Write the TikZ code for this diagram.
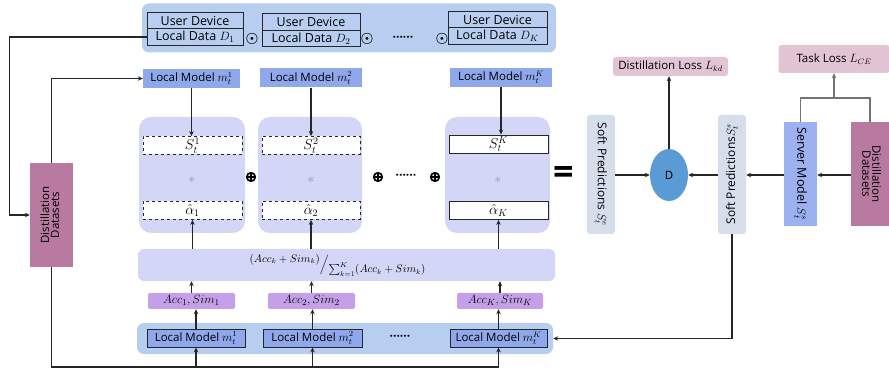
\documentclass[tikz,border=0pt]{standalone}
\usepackage{amsmath}
\usepackage{fontspec}
\setmainfont{Open Sans}
\usepackage{graphicx}
\usetikzlibrary{arrows.meta, shapes.geometric}
\definecolor{panelblue}{RGB}{183,206,240}
\definecolor{modelblue}{RGB}{143,168,235}
\definecolor{lavender}{RGB}{212,214,248}
\definecolor{accpurple}{RGB}{197,160,232}
\definecolor{softgray}{RGB}{214,222,236}
\definecolor{dblue}{RGB}{91,155,213}
\definecolor{losspink}{RGB}{226,196,212}
\definecolor{serverblue}{RGB}{157,176,240}
\definecolor{distmauve}{RGB}{184,122,160}
\tikzset{
  txt/.style={font=\fontsize{11.5}{13}\selectfont},
  panel/.style={fill=panelblue, rounded corners=7pt, inner sep=0pt},
  devbox/.style={font=\fontsize{12.5}{14}\selectfont, draw=black!85, fill=panelblue, line width=0.8pt, inner sep=0pt, minimum height=16.5pt},
  kmodel/.style={txt, fill=modelblue, inner sep=0pt, minimum height=19pt},
  bmodel/.style={txt, draw=black!85, fill=modelblue, line width=0.8pt, inner sep=0pt, minimum height=18pt},
  kweight/.style={fill=lavender, rounded corners=12pt, inner sep=0pt, minimum height=116pt},
  kscore/.style={font=\fontsize{14}{14}\selectfont, draw=black!85, fill=white, line width=0.8pt, inner sep=0pt, minimum height=18pt},
  kstar/.style={text=black!40, font=\Large},
  kacc/.style={font=\fontsize{12.5}{13}\selectfont, fill=accpurple, rounded corners=2pt, inner sep=0pt, minimum height=16pt},
  oplus/.style={circle, draw, line width=1.7pt, minimum size=8.5pt, inner sep=0pt,
    path picture={\draw[line width=1.7pt] (path picture bounding box.north) -- (path picture bounding box.south)
      (path picture bounding box.west) -- (path picture bounding box.east);}},
  kdots/.style={font=\fontsize{12}{12}\selectfont\bfseries},
  ksoft/.style={font=\fontsize{12}{13}\selectfont, fill=softgray, rounded corners=3pt, inner sep=0pt, minimum width=28pt, minimum height=119pt},
  kloss/.style={txt, fill=losspink, rounded corners=3pt, inner sep=0pt},
  kdist/.style={txt, fill=distmauve, inner sep=0pt},
  line/.style={line width=1.1pt, black!85},
  tline/.style={line width=1.1pt, black!55},
  flow/.style={-{Stealth[length=5pt, width=4.5pt]}, line width=1.1pt, black!85},
}
\begin{document}
\begin{tikzpicture}[x=1pt, y=-1pt]
  \useasboundingbox (0,0) rectangle (889,371);
  % user devices
  \node[panel, minimum width=414pt, minimum height=49pt] (devpanel) at (349,28) {};
  \node[devbox, minimum width=96pt] (dev1) at (195,20.5) {User Device};
  \node[devbox, minimum width=96pt] (data1) at (195,37) {Local Data $D_1$};
  \node[devbox, minimum width=98pt] (dev2) at (311,22) {User Device};
  \node[devbox, minimum width=98pt] (data2) at (311,38.5) {Local Data $D_2$};
  \node[devbox, minimum width=99pt] (devK) at (497.5,19.5) {User Device};
  \node[devbox, minimum width=99pt] (dataK) at (497.5,36) {Local Data $D_K$};
  \node (odot1) at (252,39) {\Large$\boldsymbol{\odot}$};
  \node (odot2) at (367,39) {\Large$\boldsymbol{\odot}$};
  \node[kdots] (tdots) at (403,39) {······};
  \node (odot3) at (442,39) {\Large$\boldsymbol{\odot}$};
  % local models and weighted predictions
  \node[kmodel, minimum width=97pt] (lm1) at (191.5,78.5) {Local Model $m_t^1$};
  \node[kmodel, minimum width=102pt] (lm2) at (311,78) {Local Model $m_t^2$};
  \node[kmodel, minimum width=102pt] (lmK) at (501,77.5) {Local Model $m_t^K$};
  \node[kweight, minimum width=106pt] (wp1) at (192,175) {};
  \node[kweight, minimum width=104pt] (wp2) at (310,175) {};
  \node[kweight, minimum width=105pt] (wpK) at (497.5,175) {};
  \node[kscore, dashed, minimum width=99pt] (s1) at (192.5,145.5) {$S_t^1$};
  \node[kscore, dashed, minimum width=98pt] (s2) at (311,145.5) {$S_t^2$};
  \node[kscore, minimum width=99pt] (sK) at (498.5,144) {$S_t^K$};
  \node[kstar] (st1) at (192,180) {$\ast$};
  \node[kstar] (st2) at (311,180) {$\ast$};
  \node[kstar] (stK) at (498,180) {$\ast$};
  \node[kscore, dashed, minimum width=99pt] (a1) at (192.5,210.5) {$\hat{\alpha}_1$};
  \node[kscore, dashed, minimum width=98pt] (a2) at (311,210.5) {$\hat{\alpha}_2$};
  \node[kscore, minimum width=99pt] (aK) at (498.5,210.5) {$\hat{\alpha}_K$};
  \node[oplus] (op1) at (251,177) {};
  \node[oplus] (op2) at (378,177) {};
  \node[kdots] (mdots) at (406,177) {······};
  \node[oplus] (op3) at (435,177) {};
  \node[font=\fontsize{36}{36}\selectfont\bfseries] (eq) at (564,176) {=};
  % weight formula
  \node[txt, fill=lavender, rounded corners=6pt, inner sep=0pt, minimum width=417pt, minimum height=32pt] (frm) at (346.5,265)
    {\fontsize{10.5}{11}\selectfont\raisebox{0.9ex}{$(Acc_k+Sim_k)$}$\Big/$\raisebox{-1ex}{$\sum_{k=1}^{K}(Acc_k+Sim_k)$}\hspace*{18pt}};
  \node[kacc, minimum width=87pt] (acc1) at (191.5,301) {$Acc_1,Sim_1$};
  \node[kacc, minimum width=87pt] (acc2) at (311.5,301) {$Acc_2,Sim_2$};
  \node[kacc, minimum width=86pt] (accK) at (500,301) {$Acc_K,Sim_K$};
  % bottom local models
  \node[panel, minimum width=416pt, minimum height=31pt] (bpanel) at (345,338.5) {};
  \node[bmodel, minimum width=98pt] (blm1) at (196,338) {Local Model $m_t^1$};
  \node[bmodel, minimum width=99pt] (blm2) at (312.5,338) {Local Model $m_t^2$};
  \node[bmodel, minimum width=97pt] (blmK) at (498.5,338) {Local Model $m_t^K$};
  \node[kdots] (bdots) at (400,338) {······};
  % distillation datasets (client side)
  \node[kdist, minimum width=43pt, minimum height=104pt] (ldist) at (51.5,215)
    {\rotatebox{90}{\begin{tabular}{@{}c@{}}Distillation\\[-3pt]Datasets\end{tabular}}};
  % server side
  \node[ksoft] (sp1) at (601,174.5) {\rotatebox{-90}{Soft Predictions $S_t^e$}};
  \node[ellipse, fill=dblue, txt, minimum width=38pt, minimum height=52pt, inner sep=0pt] (dd) at (669,175) {D};
  \node[kloss, minimum width=115pt, minimum height=19pt] (dloss) at (670.5,66.5) {Distillation Loss $L_{kd}$};
  \node[ksoft] (sp2) at (732,174.5) {\rotatebox{90}{Soft Predictions$S_t^s$}};
  \node[font=\fontsize{12.5}{13}\selectfont, fill=serverblue, inner sep=0pt, minimum width=33pt, minimum height=104pt] (server) at (800.5,174) {\rotatebox{-90}{Server Model $S_t^s$}};
  \node[kdist, minimum width=38pt, minimum height=104pt] (rdist) at (870,174)
    {\rotatebox{-90}{\begin{tabular}{@{}c@{}}Distillation\\[-3pt]Datasets\end{tabular}}};
  \node[kloss, minimum width=111pt, minimum height=28pt] (tloss) at (834,59) {Task Loss $L_{CE}$};
  \coordinate (tjoin) at (834,98);
  \coordinate (bus) at (498.5,367);
  % connectors
  \draw[flow] (data1.west) -- ++(-137,0) |- (ldist.west);
  \draw[flow] (ldist.north) |- (lm1.west);
  \draw[line] (ldist.south) |- (bus);
  \draw[flow] (blm1.south |- bus) -- (blm1.south);
  \draw[flow] (blm2.south |- bus) -- (blm2.south);
  \draw[flow] (bus) -- (blmK.south);
  \draw[flow] (blm1.north) -- (blm1.north |- acc1.south);
  \draw[flow] (blm2.north) -- (blm2.north |- acc2.south);
  \draw[flow] (blmK.north) -- (blmK.north |- accK.south);
  \draw[flow] (acc1.north) -- (acc1.north |- frm.south);
  \draw[flow] (acc2.north) -- (acc2.north |- frm.south);
  \draw[flow] (accK.north) -- (accK.north |- frm.south);
  \draw[flow] (a1.south |- frm.north) -- (a1.south);
  \draw[flow] (a2.south |- frm.north) -- (a2.south);
  \draw[flow] (aK.south |- frm.north) -- (aK.south);
  \draw[flow] (lm1.south) -- (lm1.south |- s1.north);
  \draw[flow] (lm2.south) -- (lm2.south |- s2.north);
  \draw[flow] (lmK.south) -- (lmK.south |- sK.north);
  \draw[flow] (sp1.east |- dd.west) -- (dd.west);
  \draw[flow] (dd.north) -- (dloss.south -| dd.north);
  \draw[flow] (sp2.west |- dd.east) -- (dd.east);
  \draw[flow] (server.west |- dd.east) -- (sp2.east |- dd.east);
  \draw[flow] (rdist.west |- dd.east) -- (server.east |- dd.east);
  \draw[tline] (server.north) |- (tjoin) -| (rdist.north);
  \draw[flow, black!55] (tjoin) -- (tloss.south);
  \draw[flow] (sp2.south) |- (bpanel.east);
\end{tikzpicture}
\end{document}
